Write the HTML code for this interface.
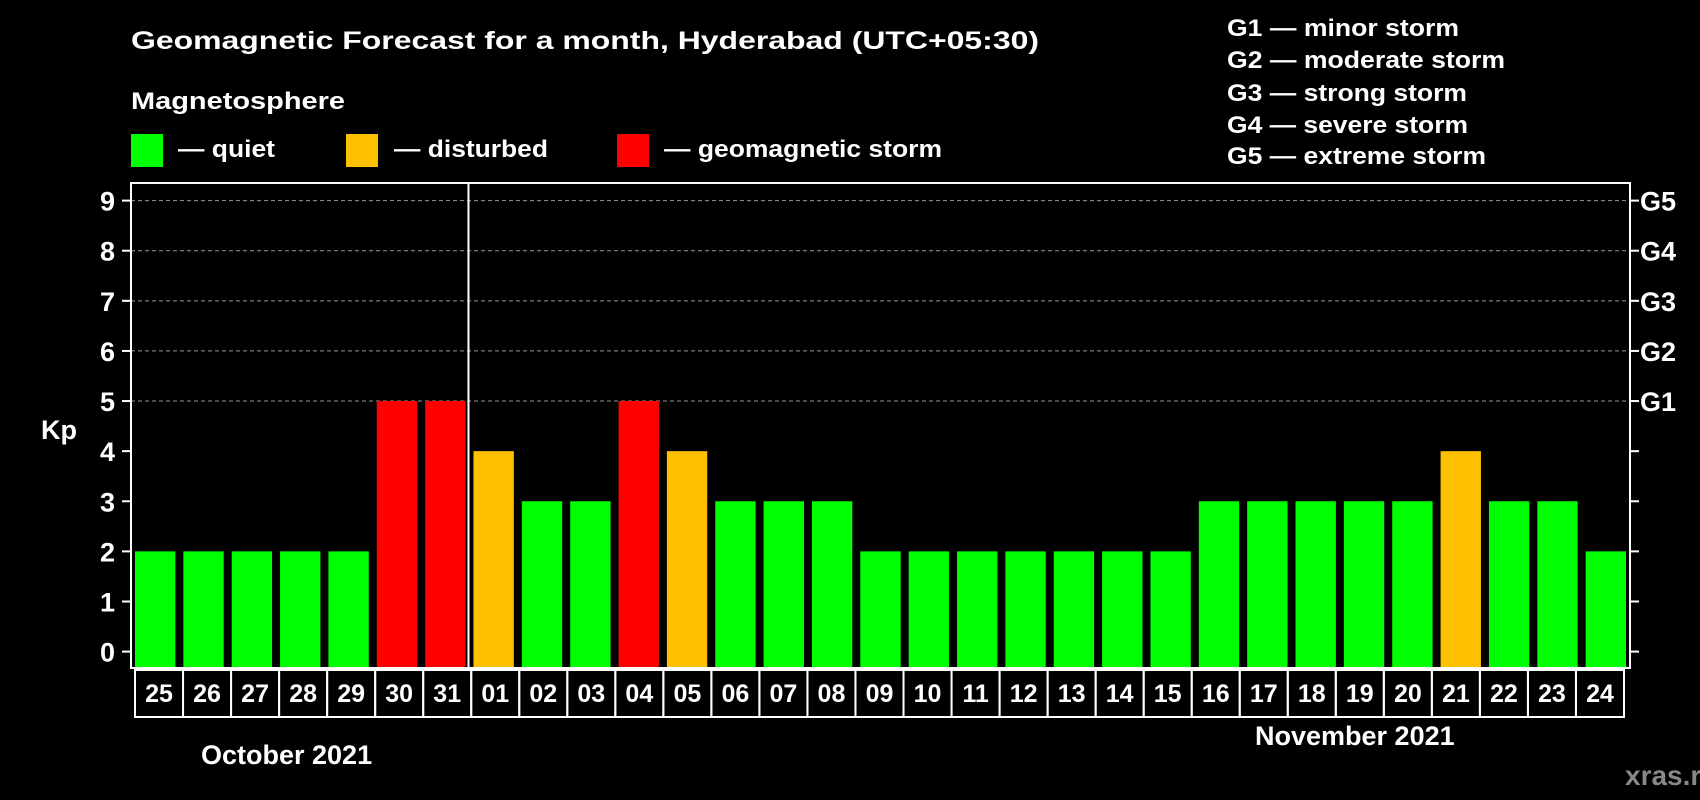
<!DOCTYPE html>
<html><head><meta charset="utf-8"><style>
html,body{margin:0;padding:0;background:#000;width:1700px;height:800px;overflow:hidden}
svg{display:block;font-family:"Liberation Sans",Arial,sans-serif;font-weight:bold}
</style></head><body>
<svg id="chart" width="1700" height="800" viewBox="0 0 1700 800">
<rect width="1700" height="800" fill="#000"/>
<text x="131" y="49" fill="#fff" font-size="25" textLength="908" lengthAdjust="spacingAndGlyphs">Geomagnetic Forecast for a month, Hyderabad (UTC+05:30)</text>
<text x="131" y="109" fill="#fff" font-size="24" textLength="214" lengthAdjust="spacingAndGlyphs">Magnetosphere</text>
<g>
<rect x="131" y="134" width="32" height="33" fill="#00ff00"/>
<text x="178" y="157" fill="#fff" font-size="24" textLength="97" lengthAdjust="spacingAndGlyphs">— quiet</text></g>
<g>
<rect x="346" y="134" width="32" height="33" fill="#ffc000"/>
<text x="394" y="157" fill="#fff" font-size="24" textLength="154" lengthAdjust="spacingAndGlyphs">— disturbed</text></g>
<g>
<rect x="617" y="134" width="32" height="33" fill="#ff0000"/>
<text x="664" y="157" fill="#fff" font-size="24" textLength="278" lengthAdjust="spacingAndGlyphs">— geomagnetic storm</text></g>
<g fill="#fff" font-size="24">
<text x="1227" y="36" textLength="232" lengthAdjust="spacingAndGlyphs">G1 — minor storm</text>
<text x="1227" y="68" textLength="278" lengthAdjust="spacingAndGlyphs">G2 — moderate storm</text>
<text x="1227" y="101" textLength="240" lengthAdjust="spacingAndGlyphs">G3 — strong storm</text>
<text x="1227" y="133" textLength="241" lengthAdjust="spacingAndGlyphs">G4 — severe storm</text>
<text x="1227" y="164" textLength="259" lengthAdjust="spacingAndGlyphs">G5 — extreme storm</text>
</g>
<text x="41" y="439" fill="#fff" font-size="27">Kp</text>
<text x="1255" y="745" fill="#fff" font-size="27">November 2021</text>
<text x="201" y="764" fill="#fff" font-size="27">October 2021</text>
<text x="1625" y="785" fill="#888" font-size="28">xras.ru</text>
<g id="plot"></g>
</svg>
<script>
const days = ["25","26","27","28","29","30","31","01","02","03","04","05","06","07","08","09","10","11","12","13","14","15","16","17","18","19","20","21","22","23","24"];
const kpValues = [2,2,2,2,2,5,5,4,3,3,5,4,3,3,3,2,2,2,2,2,2,2,3,3,3,3,3,4,3,3,2];
const yTicks = [0,1,2,3,4,5,6,7,8,9];
const gLabels = ["G1","G2","G3","G4","G5"];
const gLevels = [5,6,7,8,9];
const monthBoundary = 7;

const NS="http://www.w3.org/2000/svg";
const L=131,R=1630,T=183,B=668,Y0=651.6,Y9=200.6;
const cw=(R-L)/days.length;
const y=v=>Y0+(Y9-Y0)*v/9;
const x=i=>L+i*cw;
const g=document.getElementById('plot');
function mk(tag,attrs){const e=document.createElementNS(NS,tag);for(const k in attrs)e.setAttribute(k,attrs[k]);g.appendChild(e);return e;}
function col(v){return v>=5?"#ff0000":(v>=4?"#ffc000":"#00ff00");}

yTicks.forEach(t=>{
  if(t>=5){const gl=mk('line',{x1:L,x2:R,y1:y(t),y2:y(t),stroke:"#999","stroke-dasharray":"4,3","stroke-width":1});
  
  }
  const tl=mk('line',{x1:L-9,x2:L,y1:y(t),y2:y(t),stroke:"#fff","stroke-width":2});
  
  
  const tr=mk('line',{x1:R,x2:R+9,y1:y(t),y2:y(t),stroke:"#fff","stroke-width":2});
  
  
  const lb=mk('text',{x:L-16,y:y(t)+10,fill:"#fff","font-size":27,"text-anchor":"end"});
  lb.textContent=t;
  
  
});
gLabels.forEach((s,i)=>{
  const t=mk('text',{x:R+10,y:y(gLevels[i])+10,fill:"#fff","font-size":27});
  t.textContent=s;
  
  
});
kpValues.forEach((v,i)=>{
  const b=mk('rect',{x:x(i)+4,y:y(v),width:cw-8,height:B-1-y(v),fill:col(v)});
  
  
});
const frame=mk('rect',{x:L,y:T,width:R-L,height:B-T,fill:"none",stroke:"#fff","stroke-width":2});


const dv=mk('line',{x1:x(monthBoundary)-1,x2:x(monthBoundary)-1,y1:T,y2:B,stroke:"#fff","stroke-width":2});


const bx0=135,bw=(1624-135)/days.length;
days.forEach((d,i)=>{
  const r=mk('rect',{x:bx0+i*bw,y:670,width:bw,height:47,fill:"none",stroke:"#fff","stroke-width":2});
  
  
  const t=mk('text',{x:bx0+i*bw+bw/2,y:702,fill:"#fff","font-size":25,"text-anchor":"middle"});
  t.textContent=d;
  
  
});
</script>
</body></html>
